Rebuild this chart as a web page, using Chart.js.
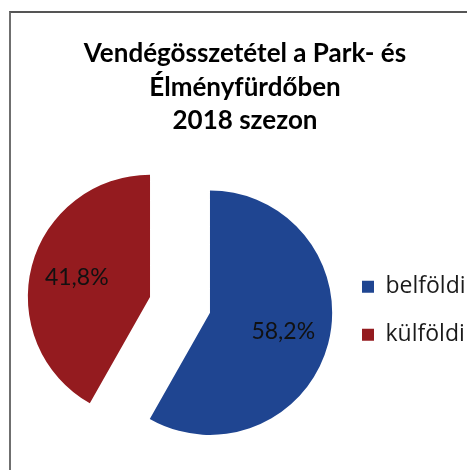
<!DOCTYPE html>
<html>
<head>
<meta charset="utf-8">
<script src="https://cdn.jsdelivr.net/npm/chart.js@4"></script>
<style>
  html, body { margin: 0; padding: 0; background: #fff; }
  #wrap { position: relative; width: 467px; height: 470px; overflow: hidden; }
  #frame {
    position: absolute; left: 9px; top: 11px; width: 480px; height: 480px;
    border-left: 2px solid #6f6f6f; border-top: 2px solid #555;
  }
  #chart { position: absolute; left: 0; top: 0; }
</style>
</head>
<body>
<div id="wrap">
  <div id="frame"></div>
  <canvas id="chart" width="467" height="470"></canvas>
</div>
<script>
// --- Data ----------------------------------------------------------------

const titleLines = ["Vendégösszetétel a Park- és", "Élményfürdőben", "2018 szezon"];
const categories = ["belföldi", "külföldi"];
const shares = [58.2, 41.8];
const sliceColors = ["#1f4591", "#941b1f"];

const EXPLODE = 31;      // px each slice is pulled out from the centre
const LABEL_POS = 0.62;  // fraction of radius where the % label sits

// --- Plugins -------------------------------------------------------------

// pull every slice outwards along its mid angle (Excel "exploded" pie)
const explodePlugin = {
  id: "explode",
  afterDatasetUpdate(chart, args) {
    for (const arc of args.meta.data) {
      const mid = (arc.startAngle + arc.endAngle) / 2;
      arc.x += Math.cos(mid) * EXPLODE;
      arc.y += Math.sin(mid) * EXPLODE;
    }
  },
};

// percent labels inside the slices, Hungarian decimal comma
const sliceLabels = {
  id: "sliceLabels",
  afterDatasetsDraw(chart) {
    const { ctx } = chart;
    const meta = chart.getDatasetMeta(0);
    ctx.save();
    ctx.font = "23px Lato";
    ctx.fillStyle = "#111";
    ctx.textAlign = "center";
    ctx.textBaseline = "middle";
    meta.data.forEach((arc, i) => {
      const mid = (arc.startAngle + arc.endAngle) / 2;
      const r = arc.outerRadius * LABEL_POS;
      const text = shares[i].toFixed(1).replace(".", ",") + "%";
      ctx.fillText(text, arc.x + Math.cos(mid) * r, arc.y + Math.sin(mid) * r);
    });
    ctx.restore();
  },
};

// --- Chart ---------------------------------------------------------------

new Chart(document.querySelector("#chart"), {
  type: "pie",
  data: {
    labels: categories,
    datasets: [{
      data: shares,
      backgroundColor: sliceColors,
      borderWidth: 0,
      clip: false,
    }],
  },
  options: {
    responsive: false,
    animation: false,
    events: [],
    layout: { padding: { left: 23, top: 12, right: 0, bottom: 43 } },
    plugins: {
      tooltip: { enabled: false },
      title: {
        display: true,
        text: titleLines,
        color: "#000",
        font: { family: "Lato", size: 26, weight: "bold", lineHeight: 1.29 },
        padding: { top: 25, bottom: 45 },
      },
      legend: {
        position: "right",
        fullSize: false,
        maxWidth: 130,
        // empty legend title only nudges the items a few px down
        title: { display: true, text: "", font: { size: 10, lineHeight: 1 }, padding: 1 },
        labels: {
          boxWidth: 12,
          boxHeight: 12,
          padding: 25,
          color: "#1a1a1a",
          font: { family: "'Open Sans'", size: 23 },
        },
      },
    },
  },
  plugins: [explodePlugin, sliceLabels],
});
</script>
</body>
</html>
